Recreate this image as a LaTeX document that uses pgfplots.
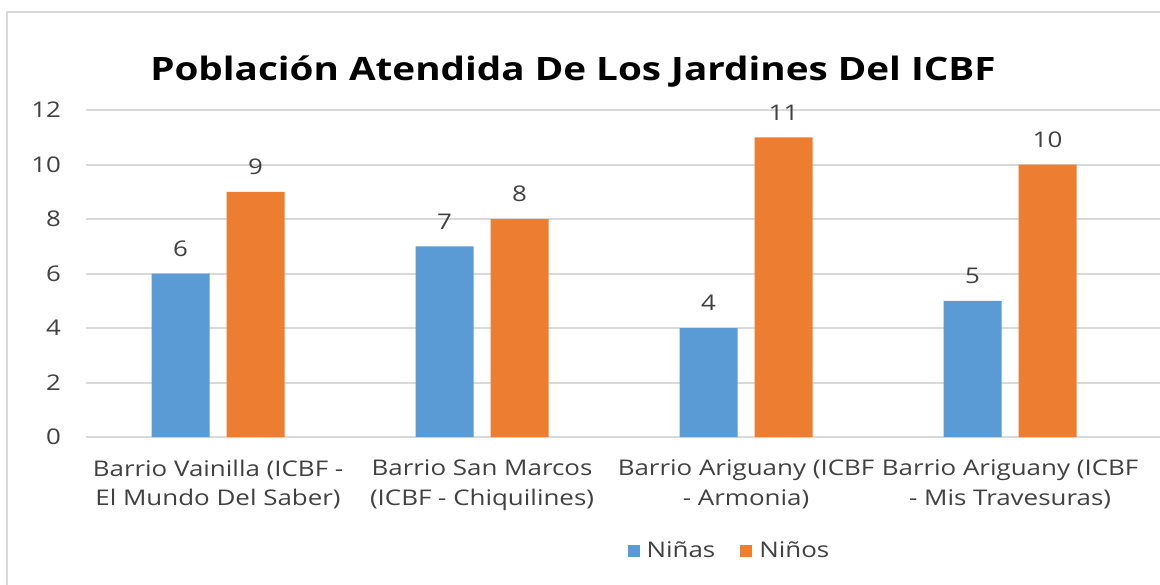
\documentclass[border=0pt]{standalone}
\usepackage{fontspec}
\setmainfont[FakeStretch=1.2]{Open Sans}
\usepackage{pgfplots}
\pgfplotsset{compat=1.18}
\definecolor{cblue}{HTML}{5B9BD5}
\definecolor{corange}{HTML}{ED7D31}
\definecolor{gridc}{HTML}{D9D9D9}
\definecolor{txt}{HTML}{404040}
\begin{document}
\begin{tikzpicture}
\useasboundingbox (0pt,0pt) rectangle (580pt,292pt);
\draw[gridc, line width=1pt] (3.5pt,-2pt) -- (3.5pt,286pt) -- (582pt,286pt);
\node[font=\bfseries\fontsize{16.1}{20}\selectfont, text=black] at (286.5pt,256pt) {Población Atendida De Los Jardines Del ICBF};
\begin{axis}[
  at={(43pt,73.5pt)}, anchor=south west,
  scale only axis, width=537pt, height=163.5pt,
  xmin=-0.5, xmax=3.568, ymin=0, ymax=12,
  axis line style={draw=none},
  ytick={0,2,...,12},
  ymajorgrids, grid style={gridc, line width=1pt},
  major tick length=0pt,
  xtick={0,1,2,3},
  xticklabels={{Barrio Vainilla (ICBF -\\El Mundo Del Saber)},{Barrio San Marcos\\(ICBF - Chiquilines)},{Barrio Ariguany (ICBF\\- Armonia)},{Barrio Ariguany (ICBF\\- Mis Travesuras)}},
  xticklabel style={align=center, font=\fontsize{10.8}{14.7}\selectfont, text=txt, yshift=-8pt},
  yticklabel style={font=\fontsize{10.8}{12}\selectfont, text=txt, xshift=-9pt},
  /pgf/number format/assume math mode=true,
  ybar, bar width=29pt,
  nodes near coords,
  every node near coord/.append style={font=\fontsize{10.8}{12}\selectfont, text=txt, yshift=5pt},
  legend style={at={(axis description cs:0.6,-0.349)}, anchor=center, draw=none, font=\fontsize{10.8}{12}\selectfont, text=txt},
  legend columns=2,
  /tikz/every even column/.append style={column sep=10.5pt},
  legend image code/.code={\fill[#1] (0pt,-3pt) rectangle (6pt,3pt); \path (7.5pt,0pt);},
  clip=false,
]
\addplot[fill=cblue, draw=none, bar shift=-18.75pt] coordinates {(0,6) (1,7) (2,4) (3,5)};
\addplot[fill=corange, draw=none, bar shift=18.75pt] coordinates {(0,9) (1,8) (2,11) (3,10)};
\legend{Niñas, Niños}
\end{axis}
\end{tikzpicture}
\end{document}
